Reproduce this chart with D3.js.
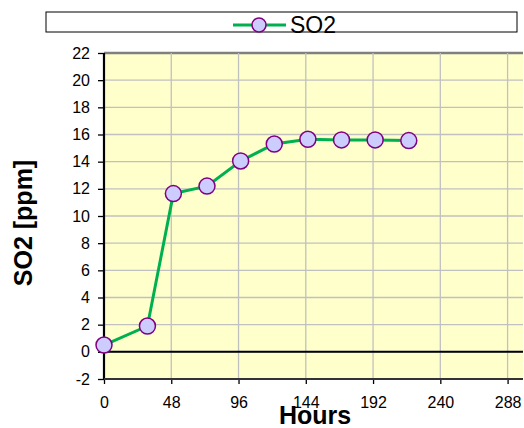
<!DOCTYPE html>
<meta charset="utf-8">
<head>
  <title>SO2 over time</title>
  <style>
    body { margin: 0; background: #fff; }
    text { font-family: "Liberation Sans", Arial, sans-serif; fill: #000; }
  </style>
</head>

<body>
  <svg width="524" height="428"></svg>

  <script src="https://cdnjs.cloudflare.com/ajax/libs/d3/7.8.5/d3.min.js"></script>
  <script>
// values
var hours = [0, 31, 49.5, 73.5, 97.5, 121.5, 145.5, 169.5, 193.5, 217.5];
var so2 = [0.5, 1.9, 11.65, 12.2, 14.05, 15.3, 15.65, 15.6, 15.6, 15.55];
var xTicks = [0, 48, 96, 144, 192, 240, 288];
var yTicks = [-2, 0, 2, 4, 6, 8, 10, 12, 14, 16, 18, 20, 22];
var seriesName = 'SO2';

var svg = d3.select('svg');

var xScale = d3.scaleLinear().domain([0, 299]).range([104, 523]);
var yScale = d3.scaleLinear().domain([-2, 22]).range([379, 53]);

// plot background
svg.append('rect')
  .attr('x', xScale(0))
  .attr('y', yScale(22))
  .attr('width', xScale(299) - xScale(0))
  .attr('height', yScale(-2) - yScale(22))
  .style('fill', '#FFFFCC');

// grid
svg.append('g')
  .selectAll('line')
  .data(yTicks.slice(1))
  .enter()
  .append('line')
  .attr('x1', xScale(0))
  .attr('x2', xScale(299))
  .attr('y1', function(d) { return yScale(d); })
  .attr('y2', function(d) { return yScale(d); })
  .style('stroke', function(d) { return d === 22 ? '#808080' : '#C0C0C0'; })
  .style('stroke-width', function(d) { return d === 22 ? 2.5 : 1.3; });

svg.append('g')
  .selectAll('line')
  .data(xTicks.slice(1))
  .enter()
  .append('line')
  .attr('x1', function(d) { return xScale(d); })
  .attr('x2', function(d) { return xScale(d); })
  .attr('y1', yScale(22))
  .attr('y2', yScale(-2))
  .style('stroke', '#C0C0C0')
  .style('stroke-width', 1.3);

// zero line
svg.append('line')
  .attr('x1', xScale(0))
  .attr('x2', xScale(299))
  .attr('y1', yScale(0))
  .attr('y2', yScale(0))
  .style('stroke', '#000')
  .style('stroke-width', 2);

// axes (plain hyphen for negatives, like the original)
var fmt = function(d) { return String(d); };
var yAxis = d3.axisLeft(yScale).tickValues(yTicks).tickSize(6).tickPadding(8).tickFormat(fmt);
var xAxis = d3.axisBottom(xScale).tickValues(xTicks).tickSize(5).tickPadding(13).tickFormat(fmt);

var gy = svg.append('g')
  .attr('transform', 'translate(' + xScale(0) + ',0)')
  .call(yAxis);
var gx = svg.append('g')
  .attr('transform', 'translate(0,' + yScale(-2) + ')')
  .call(xAxis);

[gx, gy].forEach(function(g) {
  g.select('.domain').remove();
  g.selectAll('line').style('stroke', '#000').style('stroke-width', 1.3);
  g.selectAll('text')
    .style('font-family', '"Liberation Sans", Arial, sans-serif')
    .style('font-size', '16px')
    .style('fill', '#000');
});

svg.append('line')
  .attr('x1', xScale(0)).attr('x2', xScale(0))
  .attr('y1', yScale(22)).attr('y2', yScale(-2))
  .style('stroke', '#000').style('stroke-width', 2.2);
svg.append('line')
  .attr('x1', xScale(0)).attr('x2', xScale(299))
  .attr('y1', yScale(-2)).attr('y2', yScale(-2))
  .style('stroke', '#333').style('stroke-width', 2.2);

// series
var points = hours.map(function(h, i) { return [h, so2[i]]; });

var lineGenerator = d3.line()
  .x(function(d) { return xScale(d[0]); })
  .y(function(d) { return yScale(d[1]); });

svg.append('path')
  .datum(points)
  .attr('d', lineGenerator)
  .style('fill', 'none')
  .style('stroke', '#00B050')
  .style('stroke-width', 3);

svg.append('g')
  .selectAll('circle')
  .data(points)
  .enter()
  .append('circle')
  .attr('cx', function(d) { return xScale(d[0]); })
  .attr('cy', function(d) { return yScale(d[1]); })
  .attr('r', 8)
  .style('fill', '#CCCCFF')
  .style('stroke', '#800080')
  .style('stroke-width', 1.5);

// axis titles
svg.append('text')
  .attr('x', 315)
  .attr('y', 424)
  .attr('text-anchor', 'middle')
  .style('font-size', '25px')
  .style('font-weight', 'bold')
  .text('Hours');

svg.append('text')
  .attr('transform', 'translate(32,223) rotate(-90)')
  .attr('text-anchor', 'middle')
  .style('font-size', '25px')
  .style('font-weight', 'bold')
  .text('SO2 [ppm]');

// legend
var legend = svg.append('g');
legend.append('rect')
  .attr('x', 46).attr('y', 12)
  .attr('width', 471).attr('height', 20)
  .style('fill', '#fff')
  .style('stroke', '#000')
  .style('stroke-width', 1);
legend.append('line')
  .attr('x1', 233).attr('x2', 286)
  .attr('y1', 25).attr('y2', 25)
  .style('stroke', '#00B050')
  .style('stroke-width', 3);
legend.append('circle')
  .attr('cx', 259).attr('cy', 25).attr('r', 7)
  .style('fill', '#CCCCFF')
  .style('stroke', '#800080')
  .style('stroke-width', 1.5);
legend.append('text')
  .attr('x', 290).attr('y', 33)
  .style('font-size', '23px')
  .text(seriesName);
  </script>
</body>
</html>
